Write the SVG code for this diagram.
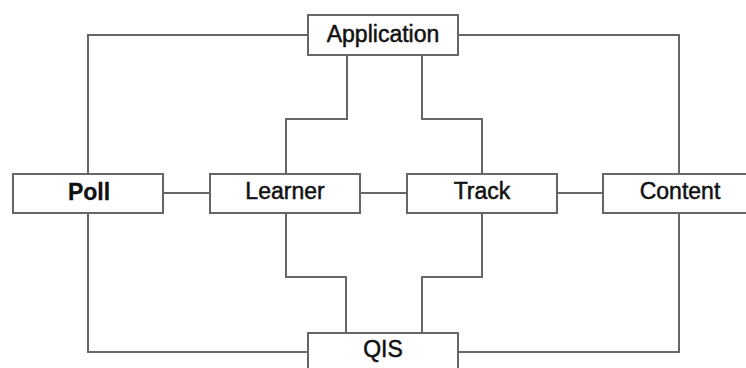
<svg xmlns="http://www.w3.org/2000/svg" width="746" height="368" viewBox="0 0 746 368">
<style>
.box{fill:#fff;stroke:#666;stroke-width:2}
.lbl{font-family:"Liberation Sans",Arial,sans-serif;font-size:23px;fill:#111;stroke:#111;stroke-width:0.5;text-anchor:middle}
.b{font-weight:bold;stroke-width:0.3}
.conn{fill:none;stroke:#666;stroke-width:2}
</style>
<rect width="746" height="368" fill="#fff"/>
<g id="connectors">
<path class="conn" d="M308,35 H88 V174"/>
<path class="conn" d="M458,35 H679 V174"/>
<path class="conn" d="M347,55 V119 H286 V174"/>
<path class="conn" d="M422,55 V119 H482 V174"/>
<path class="conn" d="M286,213 V277 H346 V333"/>
<path class="conn" d="M482,213 V277 H422 V333"/>
<path class="conn" d="M88,213 V352 H308"/>
<path class="conn" d="M679,213 V352 H458"/>
<path class="conn" d="M163,193 H210"/>
<path class="conn" d="M360,193 H407"/>
<path class="conn" d="M557,193 H603"/>
</g>
<g id="application">
<rect class="box" x="308" y="15" width="150" height="40"/>
<text class="lbl" x="383" y="42">Application</text>
</g>
<g id="poll">
<rect class="box" x="13" y="174" width="150" height="39"/>
<text class="lbl b" x="89" y="200">Poll</text>
</g>
<g id="learner">
<rect class="box" x="210" y="174" width="150" height="39"/>
<text class="lbl" x="285" y="199">Learner</text>
</g>
<g id="track">
<rect class="box" x="407" y="174" width="150" height="39"/>
<text class="lbl" x="482" y="199">Track</text>
</g>
<g id="content">
<rect class="box" x="603" y="174" width="150" height="39"/>
<text class="lbl" x="680" y="199">Content</text>
</g>
<g id="qis">
<rect class="box" x="308" y="333" width="150" height="40"/>
<text class="lbl" x="383" y="357">QIS</text>
</g>
</svg>
